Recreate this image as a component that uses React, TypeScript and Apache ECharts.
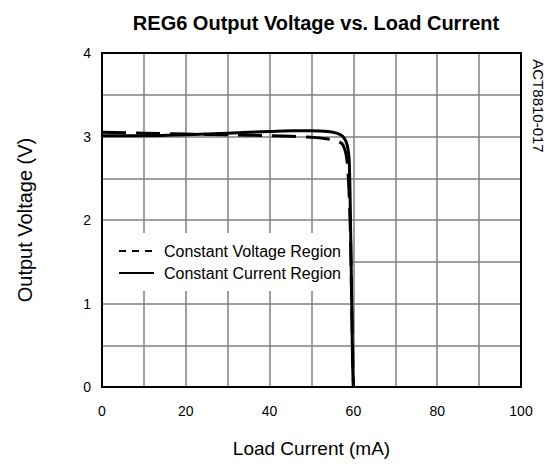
import React, { useEffect, useRef } from "react";
import * as echarts from "echarts";

const cvCurrent = [0, 10, 20, 30, 40, 50, 54, 56, 57.5, 58.5, 59.2, 59.6, 60];
const cvVoltage = [3.05, 3.04, 3.03, 3.02, 3.01, 2.99, 2.97, 2.95, 2.9, 2.7, 2.0, 1.0, 0];
const ccCurrent = [0, 5, 10, 20, 30, 40, 45, 50, 54, 56, 57.5, 58.5, 59, 59.3, 59.6, 59.8, 60];
const ccVoltage = [3.01, 3.01, 3.01, 3.02, 3.04, 3.06, 3.07, 3.07, 3.06, 3.04, 3.0, 2.9, 2.7, 2.0, 1.0, 0.3, 0];
const xTickLabels = ["0", "20", "40", "60", "80", "100"];
const yTickLabels = ["0", "1", "2", "3", "4"];

const FONT = "Liberation Sans, Arial, sans-serif";

export default function App() {
  const ref = useRef<HTMLDivElement>(null);
  useEffect(() => {
    if (!ref.current) return;
    const chart = echarts.init(ref.current, undefined, { renderer: "svg" });
    chart.setOption({
      animation: false,
      backgroundColor: "#fff",
      title: {
        text: "REG6 Output Voltage vs. Load Current",
        left: 311,
        textAlign: "center",
        top: 8,
        textStyle: { fontFamily: FONT, fontSize: 20, fontWeight: "bold", color: "#000" },
      },
      grid: { left: 102, right: 32, top: 53, bottom: 79 },
      legend: {
        left: 103,
        top: 233,
        orient: "vertical",
        backgroundColor: "#fff",
        padding: [10, 11, 10, 15],
        itemGap: 6,
        itemWidth: 35,
        itemHeight: 14,
        textStyle: { fontFamily: FONT, fontSize: 16, color: "#000", padding: [0, 0, 0, 5] },
        data: [
          {
            name: "Constant Voltage Region",
            itemStyle: { opacity: 0 },
            lineStyle: { type: [7, 6], width: 2, color: "#000" },
          },
          {
            name: "Constant Current Region",
            itemStyle: { opacity: 0 },
            lineStyle: { type: "solid", width: 2, color: "#000" },
          },
        ],
      },
      xAxis: {
        type: "value",
        min: 0,
        max: 100,
        interval: 10,
        name: "Load Current (mA)",
        nameLocation: "middle",
        nameGap: 52,
        nameTextStyle: { fontFamily: FONT, fontSize: 19, color: "#000" },
        axisLine: { show: true, onZero: false, lineStyle: { color: "#000", width: 2 } },
        axisTick: { show: false },
        axisLabel: {
          margin: 17,
          fontFamily: FONT,
          fontSize: 14,
          color: "#000",
          formatter: (v: number) => (xTickLabels.includes(String(v)) ? String(v) : ""),
        },
        splitLine: { show: true, lineStyle: { color: "#808080", width: 1.5 } },
      },
      yAxis: {
        type: "value",
        min: 0,
        max: 4,
        interval: 0.5,
        name: "Output Voltage (V)",
        nameLocation: "middle",
        nameGap: 67,
        nameTextStyle: { fontFamily: FONT, fontSize: 20, color: "#000" },
        axisLine: { show: true, onZero: false, lineStyle: { color: "#000", width: 2 } },
        axisTick: { show: false },
        axisLabel: {
          margin: 11,
          fontFamily: FONT,
          fontSize: 14,
          color: "#000",
          formatter: (v: number) => (yTickLabels.includes(String(v)) ? String(v) : ""),
        },
        splitLine: { show: true, lineStyle: { color: "#808080", width: 1.5 } },
      },
      graphic: [
        {
          type: "rect",
          shape: { x: 102, y: 53, width: 419, height: 334 },
          style: { fill: "none", stroke: "#000", lineWidth: 2 },
          silent: true,
          z: 10,
        },
        {
          type: "text",
          x: 538,
          y: 106,
          rotation: -Math.PI / 2,
          style: {
            text: "ACT8810-017",
            fontFamily: FONT,
            fontSize: 15,
            fill: "#000",
            align: "center",
            verticalAlign: "middle",
          },
        },
      ],
      series: [
        {
          name: "Constant Voltage Region",
          type: "line",
          data: cvCurrent.map((x, i) => [x, cvVoltage[i]]),
          showSymbol: false,
          symbol: "none",
          smooth: 0.3,
          itemStyle: { color: "#000" },
          lineStyle: { color: "#000", width: 3, type: [24, 10] },
          z: 5,
        },
        {
          name: "Constant Current Region",
          type: "line",
          data: ccCurrent.map((x, i) => [x, ccVoltage[i]]),
          showSymbol: false,
          symbol: "none",
          smooth: 0.3,
          itemStyle: { color: "#000" },
          lineStyle: { color: "#000", width: 3, type: "solid" },
          z: 5,
        },
      ],
    });
    return () => chart.dispose();
  }, []);
  return (
    <div
      ref={ref}
      style={{ position: "absolute", left: 0, top: 0, width: 553, height: 466 }}
    />
  );
}
